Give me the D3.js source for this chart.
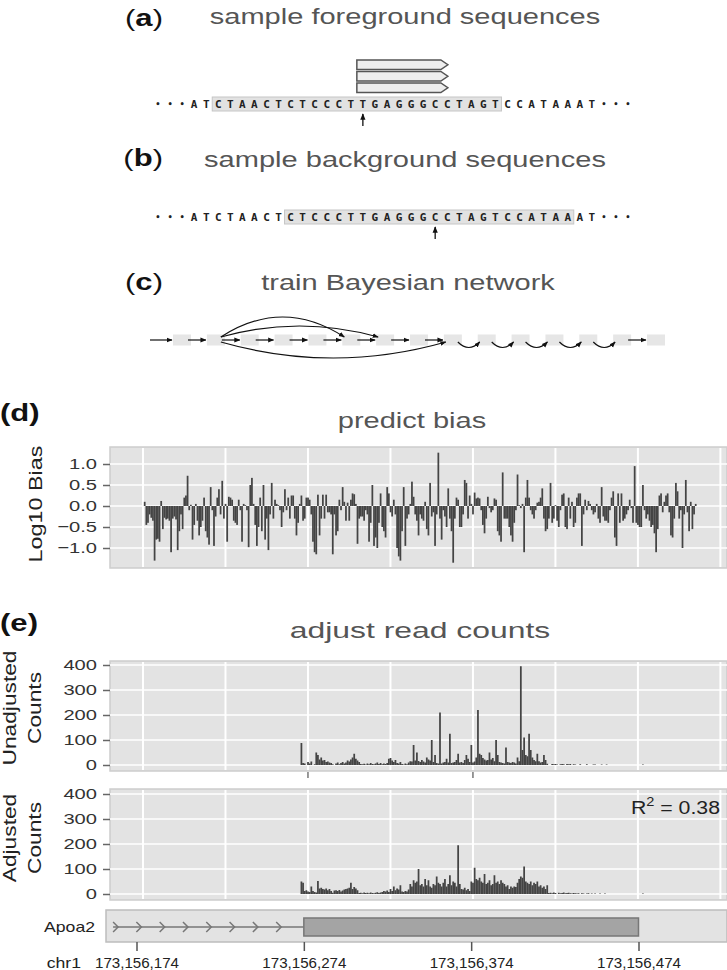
<!DOCTYPE html>
<html lang="en">
<head>
<meta charset="UTF-8">
<title>Sequence bias overview</title>
<script src="https://d3js.org/d3.v7.min.js"></script>
<style>
  body { margin: 0; background: #fff; }
  svg { display: block; }
</style>
</head>
<body>
<svg width="727" height="970"></svg>
<script>
// ---- data ----
const seqChars = "•••ATCTAACTCTCCCTTGAGGGCCTAGTCCATAAAT•••".split("");
const fgWindow = [5, 28], fgSite = 17;
const bgWindow = [11, 34], bgSite = 23;
const readCount = 3;

const nodeCount = 15;
const netEdges = [
  [0, 1, "line"], [1, 2, "line"], [2, 3, "line"], [3, 4, "line"], [4, 5, "line"],
  [5, 6, "line"], [6, 7, "line"], [7, 8, "line"],
  [1, 5, "high"], [1, 6, "low"], [1, 8, "under"],
  [8, 9, "hop"], [9, 10, "hop"], [10, 11, "hop"], [11, 12, "hop"], [12, 13, "hop"], [13, 14, "line"]
];

const biasStart = 173156175;
const bias = [
  0.10,-0.45,-0.40,-0.20,-0.28,-0.35,-1.30,-0.80,-0.78,-0.85,
  0.12,-0.55,-0.28,-0.32,-0.30,-0.35,-1.10,-0.30,-0.25,-0.32,
  -1.05,-0.60,-0.20,-0.55,0.20,0.25,0.72,-0.10,0.03,-0.80,
  -0.45,0.05,-0.35,-0.70,-0.50,-0.35,0.20,-0.60,-0.75,-0.92,
  0.45,-0.10,-0.95,-0.25,0.20,0.40,-0.20,0.60,-0.30,0.05,
  -0.85,0.22,0.20,0.15,-0.35,-0.40,-0.45,0.15,-0.10,-0.85,
  0.05,0.02,-0.10,-0.98,0.50,0.67,0.05,-0.45,-0.95,-0.50,
  0.20,-0.60,0.50,-0.80,-0.30,-1.05,-0.20,0.55,-0.30,0.15,
  0.05,0.02,-0.10,-0.50,-0.15,0.40,-0.10,0.20,-0.30,0.25,
  0.25,-0.30,-0.70,-0.40,0.05,0.25,-0.35,-0.30,0.20,0.20,
  0.15,-0.20,-0.85,-1.10,-1.15,0.27,-0.70,-0.30,0.27,-0.30,
  0.27,-0.15,-0.15,-0.20,-1.15,-0.20,-0.70,-0.60,0.15,-0.10,
  0.45,0.10,-0.35,0.08,-0.35,0.15,0.30,0.28,0.05,-0.90,
  -0.30,-0.25,-0.25,-0.35,-0.10,-0.20,-0.85,-0.40,0.50,-0.95,
  -0.75,-1.00,-0.40,0.30,-0.50,-0.60,-0.75,0.45,0.30,-0.15,
  -0.25,0.15,-0.20,-1.00,-1.20,-1.30,-0.60,0.45,-0.95,-0.30,
  -0.20,0.05,0.58,0.22,-0.20,-0.35,-0.70,-0.20,-0.30,-0.35,
  0.10,-0.55,-0.70,0.55,-0.25,-0.15,-0.95,-0.20,1.27,-0.30,
  -0.80,-0.10,-0.25,-0.50,0.42,-0.30,-0.60,-1.35,-0.30,0.20,
  0.15,-0.50,-0.50,-0.20,0.62,0.55,-0.30,0.25,0.05,-0.20,
  0.32,0.18,0.20,0.18,-0.10,-0.45,-0.65,-0.30,0.22,-0.05,
  -0.15,-0.10,0.18,0.15,-0.60,-0.70,-0.85,0.80,-0.30,-0.30,
  -0.30,-0.50,-0.70,-0.85,-0.40,-0.10,0.75,0.02,-0.05,0.05,
  -1.10,0.20,0.62,0.20,-0.10,-0.20,-0.30,-0.10,0.08,0.10,
  0.20,0.42,-0.30,-0.60,-0.55,-0.30,0.55,-0.40,-0.30,0.02,
  -0.35,-0.50,-0.10,0.27,0.30,-0.50,-0.55,0.20,-0.30,0.10,
  -0.50,-0.40,0.20,0.30,0.30,-0.95,-0.20,0.15,-0.10,0.12,
  0.05,-0.10,-0.20,-0.15,0.05,-0.30,-0.40,0.45,-0.25,-0.35,
  -0.35,-0.40,-0.10,0.20,0.35,-0.75,-0.95,0.30,-0.40,0.30,
  -0.35,-0.30,-0.20,-0.10,0.15,-0.05,-0.40,0.95,-0.40,-0.45,
  -0.50,-0.50,0.50,-0.10,-0.30,-0.20,-0.35,-0.50,-0.45,-0.65,
  -1.10,-0.55,0.25,0.30,-0.15,0.10,0.25,0.30,-0.15,-0.70,
  -0.75,-0.30,0.55,0.35,-0.30,-0.10,-1.00,-0.20,0.62,-0.15,
  -0.60,0.10,-0.55,-0.20,0.05
];

const countStart = 173156270;
const unadjusted = [
  88,8,6,0,12,6,14,0,3,50, 40,22,30,18,20,12,14,10,8,3,
  0,6,10,3,8,12,6,10,18,14, 22,30,45,25,18,12,
  4,3,5,2,6,3,8,4,3,6, 10,4,8,3,6,4,8,25,28,18,
  12,20,8,6,12,4,2,6,3,10, 15,14,80,18,50,16,12,20,14,10,
  30,22,18,100,12,40,8,6,210,6, 10,12,25,10,125,8,10,12,20,45,
  10,12,8,20,40,25,12,80,10,14, 30,220,45,40,28,22,18,20,50,22,
  28,15,100,40,12,10,8,6,70,12, 10,8,12,10,6,30,15,395,60,110,
  40,35,125,60,30,20,15,45,15,10, 12,40,20,5,
  0,0,4,3,4,2,0,3,4,3, 0,4,3,4,0,3,2,0,0,3,
  0,0,0,3,0,0,0,2,2,0, 0,0,2,0,0,2,0,0,0,0,
  0,0,0,0,0,0,0,0,0,0, 0,0,0,0,0,0,0,2
];
const adjusted = [
  50,45,12,15,10,8,30,12,8,6, 52,22,25,20,18,22,15,20,12,5,
  14,15,12,16,10,14,18,20,22,25, 45,20,28,22,15,4,5,3,6,4,
  5,3,6,4,3,5,7,4,6,8, 12,10,14,8,20,12,30,15,22,18,
  35,10,8,12,10,18,40,30,55,45, 50,100,35,40,30,60,35,55,30,25,
  40,35,70,45,40,30,45,60,30,40, 75,35,50,45,30,195,40,20,18,25,
  15,20,12,50,45,105,60,55,65,50, 45,80,40,45,55,35,40,75,45,50,
  40,55,45,40,30,35,20,30,25,30, 28,45,60,70,65,110,50,45,40,50,
  35,45,40,50,30,35,25,30,20,35, 4,5,3,6,4,0,5,3,4,6,
  3,4,5,3,2,4,3,2,3,0, 3,2,0,2,3,0,2,0,2,0,
  0,2,0,0,2,0,0,0,0,0, 0,0,0,0,0,0,0,0,0,0,
  0,0,0,0,0,0,0,2
];

const posTicks = [173156174, 173156274, 173156374, 173156474];
const biasTicks = [-1, -0.5, 0, 0.5, 1];
const countTicks = [0, 100, 200, 300, 400];
const countAxisTicks = [173156274, 173156374];
const geneName = "Apoa2";
const geneSpan = [173156160, 173156274, 173156474]; // start in view, cds start, end
const rSquared = 0.38;

// ---- helpers ----
const svg = d3.select("svg");
const FONT = '"Liberation Sans", Arial, Helvetica, sans-serif';
const SX = 1.32;

svg.append("defs").append("marker")
  .attr("id", "tip").attr("viewBox", "0 0 10 10")
  .attr("refX", 9).attr("refY", 5)
  .attr("markerWidth", 5).attr("markerHeight", 5)
  .attr("orient", "auto")
  .append("path").attr("d", "M0,1L10,5L0,9Z").attr("fill", "#111");

function stext(x, y, str, o = {}) {
  let tf = `translate(${x},${y})`;
  if (o.rotate) tf += ` rotate(${o.rotate})`;
  tf += ` scale(${o.sx ?? SX},1)`;
  return svg.append("text")
    .attr("transform", tf)
    .attr("text-anchor", o.anchor || "start")
    .attr("font-family", FONT)
    .attr("font-size", o.size || 16)
    .attr("font-weight", o.weight || "normal")
    .attr("fill", o.fill || "#222")
    .text(str);
}

function panelTag(x, y, letter, anchor, heavyParens) {
  const t = stext(x, y, "", {anchor, size: 23, sx: 1.35, fill: "#111"});
  t.append("tspan").attr("font-weight", heavyParens ? "bold" : "normal").text("(");
  t.append("tspan").attr("font-weight", "bold").text(letter);
  t.append("tspan").attr("font-weight", heavyParens ? "bold" : "normal").text(")");
}

const title = (x, y, s, sx) => stext(x, y, s, {anchor: "middle", size: 22, sx: sx || SX, fill: "#555"});

// ---- (a) and (b): sequences ----
const cx = d3.scalePoint().domain(d3.range(seqChars.length)).range([158, 628]);
const half = (cx(1) - cx(0)) / 2;

function drawSeq(cy, win, site) {
  svg.append("rect")
    .attr("x", cx(win[0]) - half).attr("y", cy - 7)
    .attr("width", cx(win[1]) - cx(win[0]) + 2 * half).attr("height", 14)
    .attr("fill", "#e2e2e2").attr("stroke", "#c6c6c6");
  svg.append("g").selectAll("text").data(seqChars).join("text")
    .attr("x", (d, i) => cx(i)).attr("y", cy).attr("dy", "0.36em")
    .attr("text-anchor", "middle")
    .attr("font-family", '"DejaVu Sans Mono", monospace')
    .attr("font-size", d => d === "•" ? 8 : 11)
    .attr("font-weight", "bold").attr("fill", "#222")
    .text(d => d);
  svg.append("line")
    .attr("x1", cx(site)).attr("x2", cx(site))
    .attr("y1", cy + 22).attr("y2", cy + 10)
    .attr("stroke", "#111").attr("stroke-width", 1.3)
    .attr("marker-end", "url(#tip)");
}

panelTag(163, 26, "a", "end", false);
title(405, 24, "sample foreground sequences");
drawSeq(104, fgWindow, fgSite);

// reads stacked above the sampled site
const rx0 = cx(fgSite) - half, rx1 = rx0 + 91;
svg.append("g").selectAll("path").data(d3.range(readCount)).join("path")
  .attr("d", i => {
    const t = 60 + i * 11.5, h = 9.5;
    return `M${rx0},${t}H${rx1 - 7}L${rx1},${t + h / 2}L${rx1 - 7},${t + h}H${rx0}Z`;
  })
  .attr("fill", "#eeeeee").attr("stroke", "#555").attr("stroke-width", 1.5);

panelTag(163, 166, "b", "end", false);
title(405, 167, "sample background sequences");
drawSeq(217, bgWindow, bgSite);

// ---- (c): network ----
panelTag(163, 290, "c", "end", false);
title(408, 290, "train Bayesian network");

const ny = 340, nw = 18, nh = 11;
const nx = d3.scalePoint().domain(d3.range(nodeCount)).range([182, 656]);
const net = svg.append("g");
net.selectAll("rect").data(d3.range(nodeCount)).join("rect")
  .attr("x", i => nx(i) - nw / 2).attr("y", ny - nh / 2)
  .attr("width", nw).attr("height", nh).attr("fill", "#e6e6e6");

const lift = {high: -40, low: -22, under: 32, hop: 11};
net.append("line")
  .attr("x1", 150).attr("x2", nx(0) - nw / 2 - 1).attr("y1", ny).attr("y2", ny)
  .attr("stroke", "#111").attr("stroke-width", 1.2).attr("marker-end", "url(#tip)");
net.selectAll("path.edge").data(netEdges).join("path")
  .attr("class", "edge")
  .attr("d", ([a, b, k]) => {
    if (k === "line") return `M${nx(a) + nw / 2 - 3},${ny}L${nx(b) - nw / 2 - 1},${ny}`;
    const off = k === "high" || k === "low" ? -3 : 2;
    const x0 = nx(a) + nw / 2 - 4, x1 = nx(b) - nw / 2 + 2;
    return `M${x0},${ny + off}Q${(x0 + x1) / 2},${ny + off + lift[k]} ${x1},${ny + off}`;
  })
  .attr("fill", "none").attr("stroke", "#111").attr("stroke-width", 1.2)
  .attr("marker-end", "url(#tip)");

// ---- shared position scale for (d) and (e) ----
const left = 110, right = 727;
const x = d3.scaleLinear().domain([173156154, 173156528]).range([left, right]);
const bw = x(1) - x(0);
const gridBp = d3.range(173156174, 173156528, 50);

function barPanel(y0, y1, yDom, yTicks, fmt, data, start) {
  const y = d3.scaleLinear().domain(yDom).range([y1, y0]);
  const g = svg.append("g");
  g.append("rect")
    .attr("x", left).attr("y", y0).attr("width", right - left).attr("height", y1 - y0)
    .attr("fill", "#e3e3e3").attr("stroke", "#cdcdcd").attr("stroke-width", 1.5);
  g.selectAll("line.hg").data(yTicks).join("line").attr("class", "hg")
    .attr("x1", left).attr("x2", right).attr("y1", d => y(d)).attr("y2", d => y(d))
    .attr("stroke", "#fff").attr("stroke-width", 1.6);
  g.selectAll("line.vg").data(gridBp).join("line").attr("class", "vg")
    .attr("x1", d => x(d)).attr("x2", d => x(d)).attr("y1", y0 + 1).attr("y2", y1 - 1)
    .attr("stroke", "#fff").attr("stroke-width", 2);
  g.selectAll("rect.bar").data(data).join("rect").attr("class", "bar")
    .attr("x", (d, i) => x(start + i) - bw / 2)
    .attr("width", bw + 0.1)
    .attr("y", d => Math.min(y(d), y(0)))
    .attr("height", d => Math.abs(y(d) - y(0)))
    .attr("fill", "#444");
  const ax = g.append("g").attr("transform", `translate(${left},0)`)
    .call(d3.axisLeft(y).tickValues(yTicks).tickSize(7).tickPadding(6).tickFormat(fmt));
  ax.attr("font-size", null).attr("font-family", null);
  ax.select(".domain").remove();
  ax.selectAll(".tick line").attr("stroke", "#666").attr("stroke-width", 1.5);
  ax.selectAll(".tick text")
    .attr("font-family", FONT).attr("font-size", 15.5).attr("fill", "#333")
    .attr("x", -13 / 1.3).attr("transform", "scale(1.3,1)");
  return y;
}

// ---- (d) ----
panelTag(0, 421, "d", "start", true);
title(412, 428, "predict bias");
barPanel(447, 568, [-1.476, 1.405], biasTicks, d3.format(".1f"), bias, biasStart);
stext(42, 504, "Log10 Bias", {rotate: -90, anchor: "middle", size: 18, sx: 1.3});

// ---- (e) ----
panelTag(0, 631, "e", "start", true);
title(420, 638, "adjust read counts", 1.45);

barPanel(661, 771, [-24, 416], countTicks, d3.format("d"), unadjusted, countStart);
svg.append("g").selectAll("line").data(countAxisTicks).join("line")
  .attr("x1", d => x(d)).attr("x2", d => x(d)).attr("y1", 772).attr("y2", 778)
  .attr("stroke", "#777").attr("stroke-width", 1.5);
stext(16, 708, "Unadjusted", {rotate: -90, anchor: "middle", size: 17.5, sx: 1.3});
stext(41, 708, "Counts", {rotate: -90, anchor: "middle", size: 17.5, sx: 1.3});

barPanel(789, 900, [-24, 420], countTicks, d3.format("d"), adjusted, countStart);
stext(16, 838, "Adjusted", {rotate: -90, anchor: "middle", size: 17.5, sx: 1.3});
stext(41, 838, "Counts", {rotate: -90, anchor: "middle", size: 17.5, sx: 1.3});

const r2 = stext(720, 814, "R", {anchor: "end", size: 19, sx: 1.12, fill: "#222"});
r2.append("tspan").attr("dy", -8).attr("font-size", 13).text("2");
r2.append("tspan").attr("dy", 8).text(" = " + rSquared.toFixed(2));

// ---- gene track ----
const gx = d3.scaleLinear().domain([173156174, 173156474]).range([136.5, 638.5]);
svg.append("rect").attr("x", 106).attr("y", 910).attr("width", 621).attr("height", 32)
  .attr("fill", "#e3e3e3").attr("stroke", "#bdbdbd").attr("stroke-width", 1.5);
const gy = 927;
svg.append("line").attr("x1", gx(geneSpan[0])).attr("x2", gx(geneSpan[1]))
  .attr("y1", gy).attr("y2", gy).attr("stroke", "#777").attr("stroke-width", 1.5);
svg.append("g").selectAll("path")
  .data(d3.range(gx(geneSpan[0]) + 3, gx(geneSpan[1]) - 2, 23.3))
  .join("path")
  .attr("d", d => `M${d - 3},${gy - 5}L${d + 2},${gy}L${d - 3},${gy + 5}`)
  .attr("fill", "none").attr("stroke", "#777").attr("stroke-width", 1.5);
svg.append("rect")
  .attr("x", gx(geneSpan[1])).attr("y", 918)
  .attr("width", gx(geneSpan[2]) - gx(geneSpan[1])).attr("height", 18)
  .attr("fill", "#a4a4a4").attr("stroke", "#777").attr("stroke-width", 1.5);
stext(95, 932, geneName, {anchor: "end", size: 14, sx: 1.26, fill: "#222"});

const gax = svg.append("g").attr("transform", "translate(0,942)")
  .call(d3.axisBottom(gx).tickValues(posTicks).tickSize(9).tickFormat(d3.format(",")));
gax.attr("font-size", null).attr("font-family", null);
gax.select(".domain").remove();
gax.selectAll(".tick line").attr("stroke", "#555").attr("stroke-width", 1.5);
gax.selectAll(".tick text")
  .attr("font-family", FONT).attr("font-size", 14).attr("fill", "#222")
  .attr("y", 26).attr("dy", null).attr("transform", "scale(1.08,1)");
stext(81, 968, "chr1", {anchor: "end", size: 14, sx: 1.26, fill: "#222"});
</script>
</body>
</html>
